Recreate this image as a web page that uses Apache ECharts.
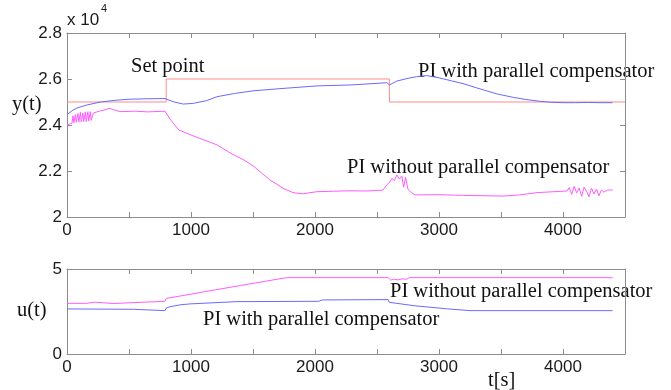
<!DOCTYPE html>
<html>
<head>
<meta charset="utf-8">
<script src="https://cdn.jsdelivr.net/npm/echarts@6/dist/echarts.min.js"></script>
<style>html,body{margin:0;padding:0;background:#fff}#c{width:671px;height:390px}</style>
</head>
<body>
<div id="c"></div>
<script>
// ---- data (y in units of 10^4) ----
const setT = [0, 800, 800, 2600, 2600, 4500];
const setV = [2.5, 2.5, 2.6, 2.6, 2.5, 2.5];

const withT = [0, 40, 80, 160, 270, 400, 500, 650, 790, 805, 857, 938, 1018, 1126, 1210, 1350, 1508, 1742, 2016, 2282, 2500, 2580, 2600, 2660, 2750, 2820, 2900, 2992, 3100, 3194, 3300, 3468, 3600, 3700, 3815, 3900, 4000, 4100, 4200, 4300, 4400];
const withV = [2.445, 2.462, 2.474, 2.487, 2.5, 2.508, 2.512, 2.514, 2.515, 2.513, 2.501, 2.491, 2.494, 2.506, 2.523, 2.537, 2.549, 2.559, 2.57, 2.574, 2.581, 2.584, 2.574, 2.591, 2.603, 2.61, 2.615, 2.606, 2.592, 2.58, 2.562, 2.535, 2.52, 2.511, 2.503, 2.499, 2.497, 2.497, 2.498, 2.497, 2.497];

const woT = [0, 20, 40, 48, 55, 68, 75, 88, 95, 108, 115, 128, 135, 148, 155, 168, 175, 188, 195, 212, 260, 320, 340, 427, 550, 650, 790, 800, 836, 903, 997, 1105, 1212, 1320, 1427, 1508, 1637, 1742, 1823, 1900, 2016, 2150, 2282, 2420, 2548, 2578, 2600, 2620, 2640, 2660, 2680, 2700, 2715, 2730, 2750, 2782, 2806, 3000, 3200, 3516, 3650, 3790, 4032, 4050, 4070, 4090, 4110, 4130, 4150, 4170, 4190, 4210, 4230, 4250, 4270, 4290, 4310, 4330, 4360, 4400];
const woV = [2.4, 2.404, 2.408, 2.44, 2.41, 2.445, 2.412, 2.45, 2.413, 2.455, 2.414, 2.452, 2.415, 2.457, 2.415, 2.458, 2.418, 2.458, 2.42, 2.452, 2.46, 2.468, 2.473, 2.458, 2.46, 2.457, 2.46, 2.462, 2.422, 2.378, 2.357, 2.335, 2.313, 2.277, 2.248, 2.219, 2.161, 2.125, 2.106, 2.101, 2.11, 2.112, 2.114, 2.113, 2.117, 2.139, 2.15, 2.168, 2.158, 2.183, 2.165, 2.178, 2.13, 2.172, 2.12, 2.104, 2.096, 2.097, 2.094, 2.091, 2.096, 2.106, 2.113, 2.128, 2.098, 2.133, 2.105, 2.126, 2.09, 2.13, 2.112, 2.088, 2.125, 2.1, 2.122, 2.092, 2.118, 2.108, 2.118, 2.117];

const uWithT = [0, 535, 545, 790, 800, 830, 920, 1000, 1370, 2030, 2060, 2590, 2600, 2800, 3060, 3250, 4400];
const uWithV = [2.65, 2.63, 2.55, 2.55, 2.7, 2.78, 2.9, 2.95, 3.08, 3.1, 3.18, 3.2, 3.04, 2.84, 2.66, 2.55, 2.55];

const uWoT = [0, 160, 170, 220, 230, 375, 390, 790, 800, 1000, 1200, 1400, 1600, 1770, 2590, 2610, 2640, 2670, 2700, 2740, 2760, 4400];
const uWoV = [2.98, 2.98, 3.05, 3.05, 2.97, 2.97, 3.07, 3.1, 3.27, 3.52, 3.78, 4.03, 4.28, 4.49, 4.49, 4.35, 4.4, 4.36, 4.42, 4.4, 4.49, 4.49];

const xTickStep = 500;
const xMax = 4500;

function zip(a, b) { return a.map((t, i) => [t, b[i]]); }

const axisLineStyle = { color: '#8c8c8c', width: 1 };
const labelStyle = { color: '#1a1a1a', fontFamily: 'Liberation Sans', fontSize: 17 };

function xAx(grid, pos, labels) {
  return {
    type: 'value', gridIndex: grid, position: pos, min: 0, max: xMax, interval: xTickStep,
    axisLine: { show: true, lineStyle: axisLineStyle, onZero: false },
    axisTick: { show: true, inside: true, length: 5, lineStyle: axisLineStyle },
    axisLabel: { show: labels, margin: 5, ...labelStyle, formatter: v => (v % 1000 === 0 ? String(v) : '') },
    splitLine: { show: false }
  };
}
function yAx(grid, pos, labels, min, max, step, fmt) {
  return {
    type: 'value', gridIndex: grid, position: pos, min: min, max: max, interval: step,
    axisLine: { show: true, lineStyle: axisLineStyle, onZero: false },
    axisTick: { show: true, inside: true, length: 5, lineStyle: axisLineStyle },
    axisLabel: { show: labels, margin: 5, ...labelStyle, formatter: fmt },
    splitLine: { show: false }
  };
}

const serif = 'Liberation Serif';
// y given as the vertical centre of the text
function txt(x, y, s) {
  return { type: 'text', left: x, top: y - 10, style: { text: s, fill: '#111', font: '20.5px "' + serif + '"' } };
}

const chart = echarts.init(document.getElementById('c'), null, { renderer: 'canvas' });
chart.setOption({
  animation: false,
  backgroundColor: '#fff',
  grid: [
    { left: 67, top: 33, width: 558, height: 184 },
    { left: 67, top: 269, width: 558, height: 85 }
  ],
  xAxis: [xAx(0, 'bottom', true), xAx(0, 'top', false), xAx(1, 'bottom', true), xAx(1, 'top', false)],
  yAxis: [
    yAx(0, 'left', true, 2, 2.8, 0.2, v => String(Math.round(v * 10) / 10)),
    yAx(0, 'right', false, 2, 2.8, 0.2),
    yAx(1, 'left', true, 0, 5, 5, v => String(v)),
    yAx(1, 'right', false, 0, 5, 5)
  ],
  series: [
    { type: 'line', xAxisIndex: 0, yAxisIndex: 0, data: zip(setT, setV), showSymbol: false, lineStyle: { color: '#ff8a8a', width: 1 }, z: 2 },
    { type: 'line', xAxisIndex: 0, yAxisIndex: 0, data: zip(withT, withV), showSymbol: false, lineStyle: { color: '#6a6aff', width: 1 }, z: 3 },
    { type: 'line', xAxisIndex: 0, yAxisIndex: 0, data: zip(woT, woV), showSymbol: false, lineStyle: { color: '#ff5cff', width: 1 }, z: 3 },
    { type: 'line', xAxisIndex: 2, yAxisIndex: 2, data: zip(uWoT, uWoV), showSymbol: false, lineStyle: { color: '#ff5cff', width: 1 }, z: 3 },
    { type: 'line', xAxisIndex: 2, yAxisIndex: 2, data: zip(uWithT, uWithV), showSymbol: false, lineStyle: { color: '#6a6aff', width: 1 }, z: 3 }
  ],
  graphic: [
    { type: 'text', left: 67, top: 12, style: { text: 'x 10', fill: '#1a1a1a', font: '17px "Liberation Sans"' } },
    { type: 'text', left: 101, top: 3, style: { text: '4', fill: '#1a1a1a', font: '11px "Liberation Sans"' } },
    txt(12, 104, 'y(t)'),
    txt(17, 310, 'u(t)'),
    txt(488, 380, 't[s]'),
    txt(131, 66, 'Set point'),
    txt(418, 71, 'PI with parallel compensator'),
    txt(347, 167, 'PI without parallel compensator'),
    txt(203, 319, 'PI with parallel compensator'),
    txt(390, 291, 'PI without parallel compensator')
  ]
});
</script>
</body>
</html>
